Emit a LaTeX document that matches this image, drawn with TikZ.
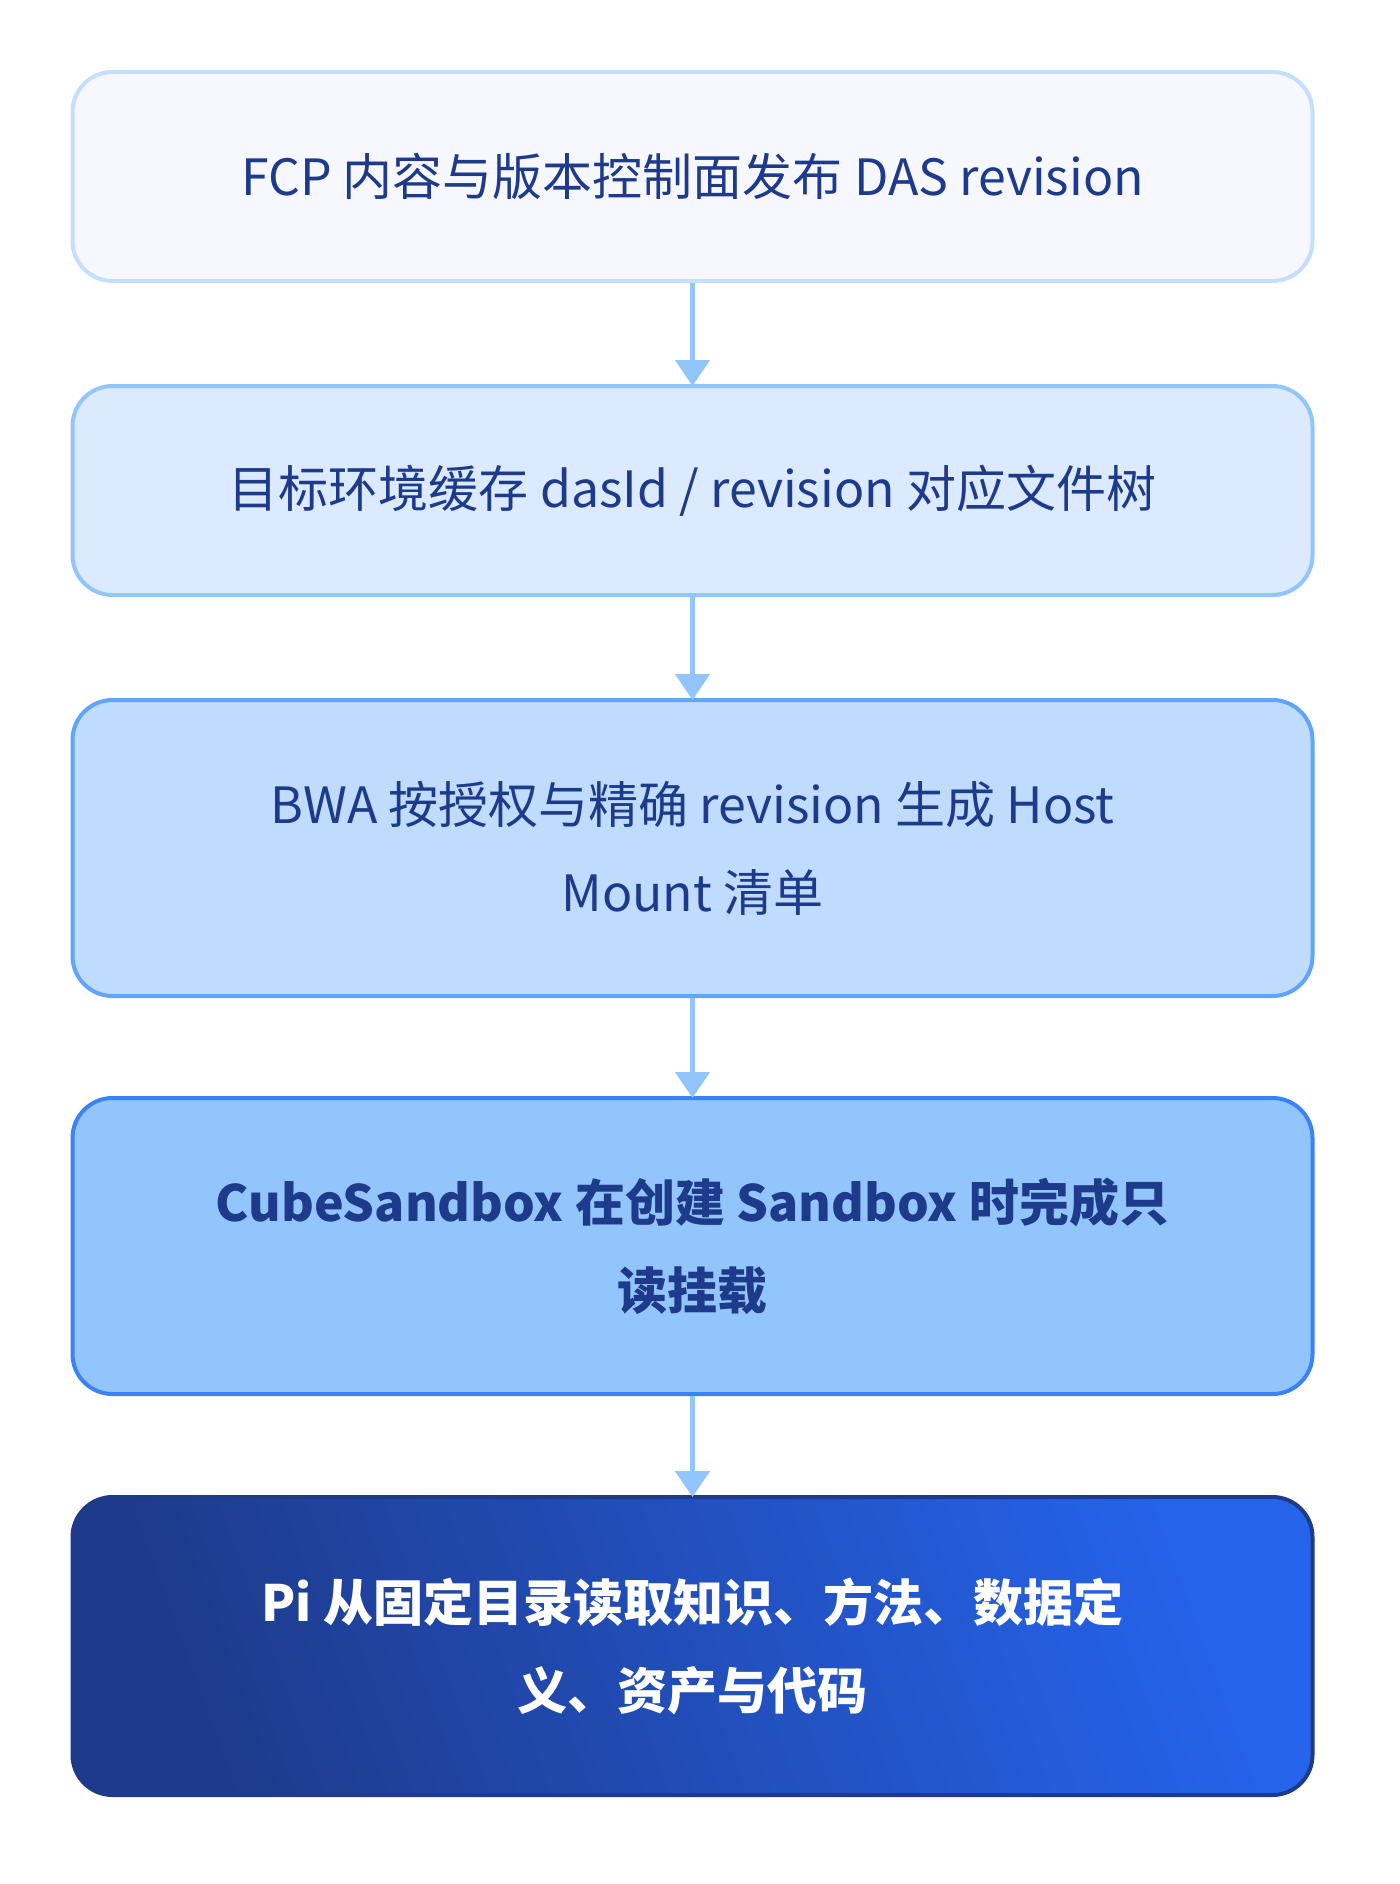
\documentclass[tikz,border=0pt]{standalone}
\usepackage{fontspec}
\setmainfont{Noto Sans CJK SC}
\usetikzlibrary{arrows.meta}
\definecolor{txt}{HTML}{1E3A8A}
\definecolor{arr}{HTML}{93C5FD}
\begin{document}
\begin{tikzpicture}[x=0.5pt,y=-0.5pt,
  box/.style={rounded corners=20pt, line width=2pt, minimum width=620pt, align=center,
    text=txt, font=\fontsize{25}{44}\selectfont, inner sep=0pt},
  ar/.style={draw=arr, line width=2.5pt, -{Triangle[length=13pt,width=17pt]}, shorten >=-1pt}]
\useasboundingbox[fill=white] (0,0) rectangle (1400,1884);
\node[box, fill=blue!3!white, draw=arr!55!white, minimum height=104.5pt] (a) at (692.5,176.5) {FCP 内容与版本控制面发布 DAS revision};
\node[box, fill={rgb,255:red,219;green,234;blue,254}, draw=arr, minimum height=104.5pt] (b) at (692.5,490.5) {目标环境缓存 dasId / revision 对应文件树};
\node[box, fill={rgb,255:red,191;green,219;blue,254}, draw={rgb,255:red,96;green,165;blue,250}, minimum height=148pt] (c) at (692.5,848) {BWA 按授权与精确 revision 生成 Host\\Mount 清单};
\node[box, fill={rgb,255:red,147;green,197;blue,253}, draw={rgb,255:red,59;green,130;blue,246}, minimum height=148pt, font=\fontsize{25}{44}\selectfont\bfseries] (d) at (692.5,1246) {CubeSandbox 在创建 Sandbox 时完成只\\读挂载};
\node[box, left color={rgb,255:red,30;green,58;blue,138}, right color={rgb,255:red,37;green,99;blue,235}, shading angle=110, draw={rgb,255:red,30;green,58;blue,138}, text=white, minimum height=149pt, font=\fontsize{25}{44}\selectfont\bfseries] (e) at (692.5,1646) {Pi 从固定目录读取知识、方法、数据定\\义、资产与代码};
\draw[ar] (a) -- (b);
\draw[ar] (b) -- (c);
\draw[ar] (c) -- (d);
\draw[ar] (d) -- (e);
\end{tikzpicture}
\end{document}
